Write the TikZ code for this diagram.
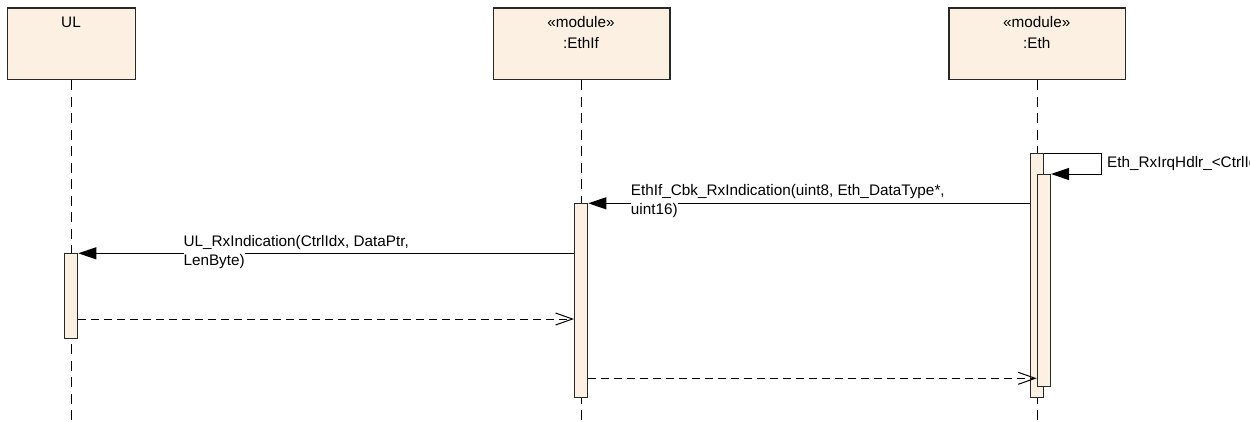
\documentclass[tikz,border=0pt]{standalone}
\usepackage{fontspec}
\setmainfont{Liberation Sans}
\usetikzlibrary{arrows.meta}
\definecolor{lifefill}{RGB}{251,240,226}
\definecolor{edge}{RGB}{40,40,40}
\begin{document}
\begin{tikzpicture}[x=1pt,y=-1pt,
  every node/.style={font=\fontsize{15.3}{19}\selectfont, inner sep=0pt},
  objbox/.style={draw=edge, line width=1.3pt, fill=lifefill, minimum height=71.7pt, anchor=north west},
  actbar/.style={draw=edge, line width=1pt, fill=lifefill, minimum width=13.3pt, anchor=north west},
  lifeline/.style={draw=black, line width=0.9pt, dash pattern=on 10pt off 6.5pt},
  msgcall/.style={draw=black, line width=1pt, -{Triangle[length=18pt,width=12pt]}},
  msgret/.style={draw=black, line width=1pt, dash pattern=on 8pt off 5pt, -{Straight Barb[length=17pt,width=12pt]}},
  lbltop/.style={anchor=west, text height=11pt, text depth=3pt},
  lblbot/.style={anchor=west, fill=white, text height=12pt, text depth=4pt, inner ysep=1pt},
]
\useasboundingbox (0,0) rectangle (1250,421);
\clip (0,0) rectangle (1250,421);
\coordinate (bottom) at (0,425);

% participants
\node[objbox, minimum width=128.3pt] (ul) at (6.7,7.3) {};
\node[objbox, minimum width=176.6pt] (ethif) at (492.7,7.3) {};
\node[objbox, minimum width=176.7pt] (eth) at (948.3,7.3) {};
\node (ultxt) at (71,22) {UL};
\node (ethifst) at (581,21.7) {«module»};
\node (ethiftxt) at (581,43.5) {:EthIf};
\node (ethst) at (1036.7,21.7) {«module»};
\node (ethtxt) at (1036.7,43.5) {:Eth};

% lifelines
\draw[lifeline] (ul.south) -- (ul.south |- bottom);
\draw[lifeline] (ethif.south) -- (ethif.south |- bottom);
\draw[lifeline] (eth.south) -- (eth.south |- bottom);

% activation bars
\node[actbar, minimum height=84.7pt] (ulbar) at (64,253.3) {};
\node[actbar, minimum height=194pt] (ifbar) at (574,203.3) {};
\node[actbar, minimum height=244pt] (ethA) at (1030,153.3) {};
\draw[msgcall] (ethA.west |- ifbar.north) -- (ifbar.north east);
\node[actbar, minimum height=211.7pt] (ethB) at (1036.7,174) {};

% self call on Eth
\coordinate (loop) at (1101.7,153.3);
\draw[msgcall] (ethA.north east) -- (loop) |- (ethB.north east);
\node[lbltop] (selflbl) at (1107,163.3) {Eth\_RxIrqHdlr\_<CtrlIdx>};

% EthIf callback label
\node[lbltop] (cbklbl1) at (630.7,191.7) {EthIf\_Cbk\_RxIndication(uint8, Eth\_DataType*,};
\node[lblbot] (cbklbl2) at (630.7,210.5) {uint16)};

% upper layer indication
\draw[msgcall] (ifbar.west |- ulbar.north) -- (ulbar.north east);
\node[lbltop] (ullbl1) at (183.3,242.7) {UL\_RxIndication(CtrlIdx, DataPtr,};
\node[lblbot] (ullbl2) at (183.3,261.7) {LenByte)};

% returns
\coordinate (ulret) at ([yshift=20pt]ulbar.south east);
\coordinate (ifret) at ([yshift=20pt]ifbar.south east);
\draw[msgret] (ulret) -- (ifbar.west |- ulret);
\draw[msgret] (ifret) -- (ethB.west |- ifret);
\end{tikzpicture}
\end{document}
